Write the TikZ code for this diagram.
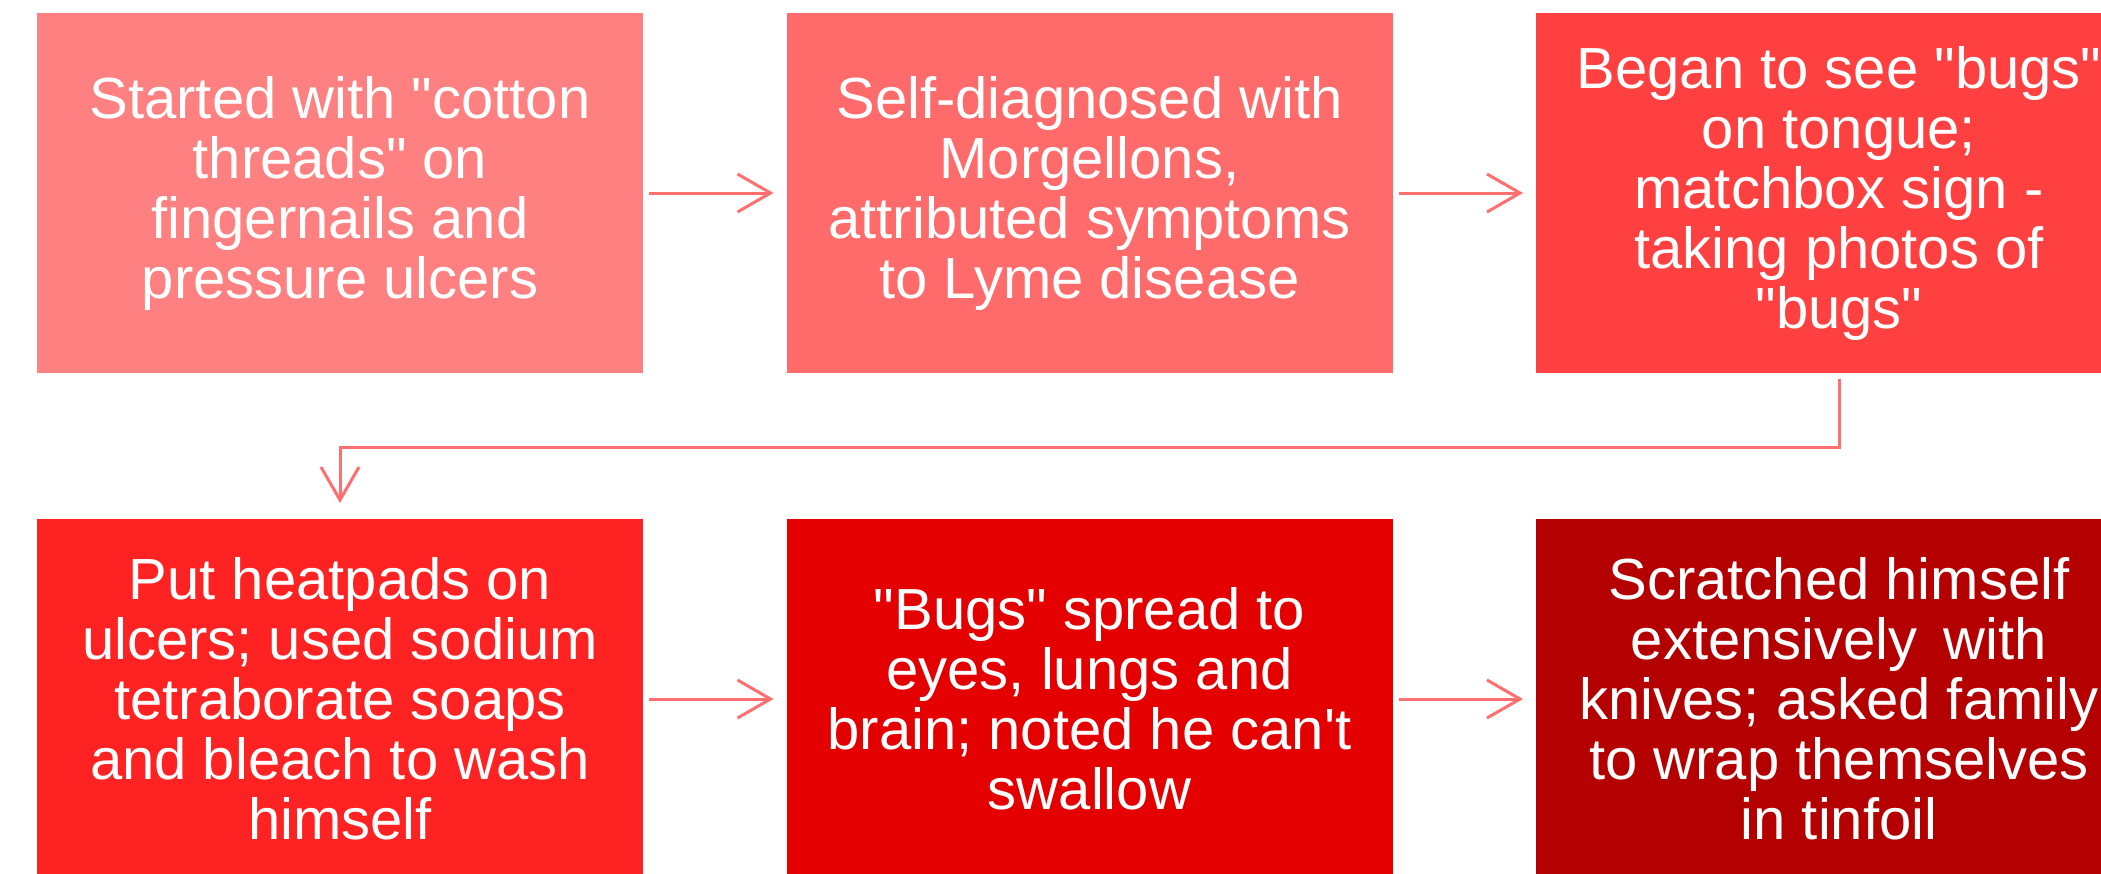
\documentclass[tikz,border=0pt]{standalone}
\usepackage{fontspec}
\setmainfont{Liberation Sans}[Ligatures=TeXOff]
\usepackage{xcolor}
\usetikzlibrary{positioning, arrows.meta}
\definecolor{rOne}{HTML}{FF8080}
\definecolor{rTwo}{HTML}{FF6A6A}
\definecolor{rThree}{HTML}{FF4040}
\definecolor{rFour}{HTML}{FF2222}
\definecolor{rFive}{HTML}{E40000}
\definecolor{rSix}{HTML}{B40000}
\definecolor{rLink}{HTML}{FF6F6F}

\begin{document}
\begin{tikzpicture}[x=1pt, y=-1pt,
      stepbox/.style={draw=none, text=white, minimum width=606pt, minimum height=360pt,
        align=center, inner sep=0pt, outer sep=0pt, font=\fontsize{58}{60}\selectfont},
      link/.style={-{Straight Barb[length=33pt, width=38pt, line width=3pt]}, line width=3pt, rLink}]
      \useasboundingbox (0,0) rectangle (2101,873);
      % top row
      \node[stepbox, fill=rOne] (threads) at (340,193)
        {Started with "cotton\\threads" on\\fingernails and\\pressure ulcers};
      \node[stepbox, fill=rTwo, right=143.5pt of threads] (selfdx)
        {Self-diagnosed with\\Morgellons,\\attributed symptoms\\to Lyme disease};
      \node[stepbox, fill=rThree, right=143.5pt of selfdx] (bugs)
        {Began to see "bugs"\\on tongue;\\matchbox sign -\\taking photos of\\"bugs"};
      % bottom row
      \node[stepbox, fill=rFour] (heatpads) at (340,699)
        {Put heatpads on\\ulcers; used sodium\\tetraborate soaps\\and bleach to wash\\himself};
      \node[stepbox, fill=rFive, right=143.5pt of heatpads] (spread)
        {"Bugs" spread to\\eyes, lungs and\\brain; noted he can't\\swallow};
      \node[stepbox, fill=rSix, right=143.5pt of spread] (knives)
        {Scratched himself\\extensively\hspace{0.45em}with\\knives; asked family\\to wrap themselves\\in tinfoil};
      % connectors
      \draw[link] ([xshift=6pt]threads.east) -- ([xshift=-13pt]selfdx.west);
      \draw[link] ([xshift=6pt]selfdx.east) -- ([xshift=-13pt]bugs.west);
      \draw[link] ([yshift=-6pt]bugs.south) -- ++(0,68) -| ([yshift=16pt]heatpads.north);
      \draw[link] ([xshift=6pt]heatpads.east) -- ([xshift=-13pt]spread.west);
      \draw[link] ([xshift=6pt]spread.east) -- ([xshift=-13pt]knives.west);
    \end{tikzpicture}
\end{document}
